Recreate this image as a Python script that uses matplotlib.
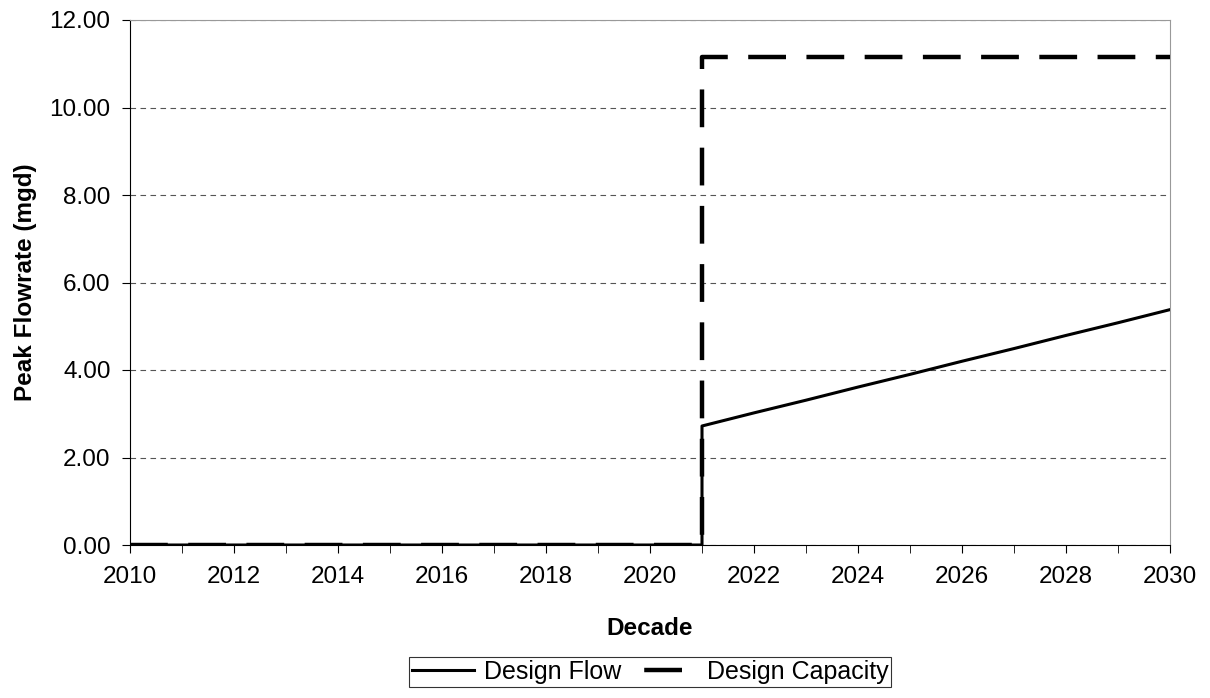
import numpy as np
import matplotlib.pyplot as plt
from matplotlib.lines import Line2D
from matplotlib.ticker import MultipleLocator, FormatStrFormatter

plt.rcParams['font.family'] = ['Liberation Sans', 'DejaVu Sans']

# Design flow (mgd) by year; 2021 appears twice for the step up
flow_years = [2010, 2011, 2012, 2013, 2014, 2015, 2016, 2017, 2018, 2019, 2020,
              2021, 2021, 2022, 2023, 2024, 2025, 2026, 2027, 2028, 2029, 2030]
flow_values = [0, 0, 0, 0, 0, 0, 0, 0, 0, 0, 0,
               0, 2.72, 3.02, 3.31, 3.61, 3.90, 4.20, 4.49, 4.79, 5.08, 5.38]

# Design capacity (mgd)
cap_years = [2010, 2021, 2021, 2030]
cap_values = [0, 0, 11.15, 11.15]

fig = plt.figure(figsize=(12.1, 6.98), dpi=100)
ax = fig.add_axes([130 / 1210, 1 - 545 / 698, 1040 / 1210, 525 / 698])

ax.plot(flow_years, flow_values, color='black', lw=2.2, zorder=3)
ax.plot(cap_years, cap_values, color='black', lw=3.2, dashes=(8.5, 4.6), zorder=3)

ax.set_xlim(2010, 2030)
ax.set_ylim(0, 12)
ax.xaxis.set_major_locator(MultipleLocator(2))
ax.xaxis.set_minor_locator(MultipleLocator(1))
ax.yaxis.set_major_locator(MultipleLocator(2))
ax.yaxis.set_major_formatter(FormatStrFormatter('%.2f'))

ax.grid(axis='y', color='#555555', lw=0.8, dashes=(5, 4))
ax.tick_params(axis='both', which='both', direction='out', color='black', labelsize=17.5)
ax.tick_params(axis='x', which='major', length=6, pad=9)
ax.tick_params(axis='x', which='minor', length=6)
ax.tick_params(axis='y', length=6, pad=8)

for side in ['top', 'right']:
    ax.spines[side].set_color('#999999')
for side in ['left', 'bottom']:
    ax.spines[side].set_color('black')

ax.set_xlabel('Decade', fontsize=17.5, fontweight='bold', labelpad=21)
ax.set_ylabel('Peak Flowrate (mgd)', fontsize=17.5, fontweight='bold', labelpad=9)

# legend handles: capacity shown as one short dash in the middle
h_flow = Line2D([], [], color='black', lw=2.2)
h_cap = Line2D([], [], color='black', lw=3.2, linestyle=(10.8, (8.5, 4.6)))
leg = fig.legend([h_flow, h_cap], ['Design Flow', 'Design Capacity'],
                 loc='upper center', bbox_to_anchor=(650 / 1210, 1 - 657 / 698), ncol=2,
                 fontsize=18, frameon=True, fancybox=False, edgecolor='black',
                 handlelength=2.5, borderpad=0.12, borderaxespad=0, columnspacing=0.5,
                 handletextpad=0.4)
leg.get_frame().set_linewidth(0.8)

fig.savefig('out.png', dpi=100)
